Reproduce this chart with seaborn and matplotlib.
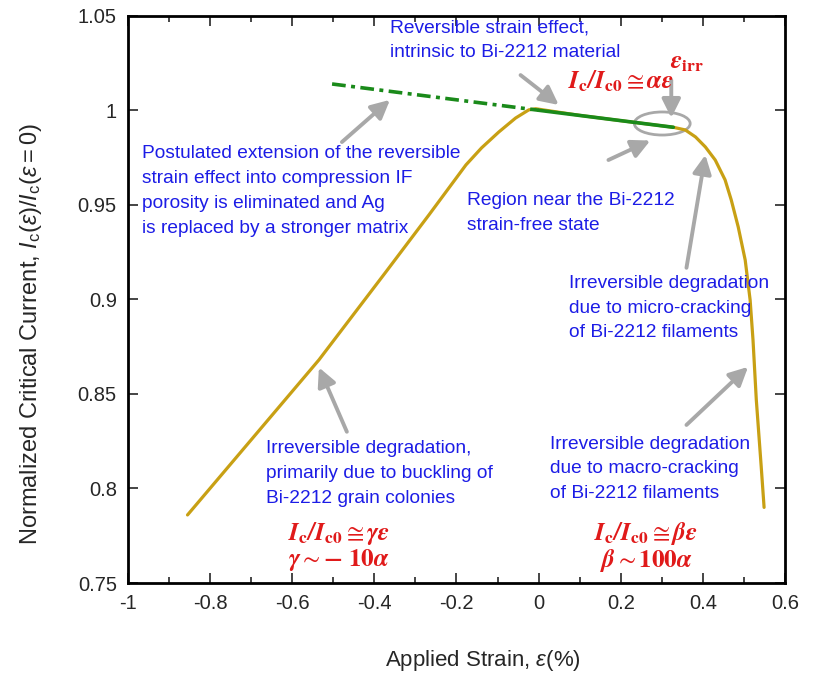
import numpy as np
import pandas as pd
import seaborn as sns
import matplotlib.pyplot as plt
from matplotlib.patches import Ellipse
from matplotlib.ticker import MultipleLocator

strain = [-0.855, -0.535, -0.372, -0.267, -0.177, -0.139, -0.097, -0.056, -0.024, -0.007,
          0.1, 0.2, 0.328, 0.357, 0.382, 0.406, 0.430, 0.454, 0.469, 0.486, 0.503,
          0.515, 0.522, 0.530, 0.542, 0.549]
ic_norm = [0.786, 0.868, 0.9145, 0.9447, 0.9711, 0.9801, 0.9885, 0.9959, 1.0002, 1.0008,
           0.9973, 0.9945, 0.9910, 0.9896, 0.9859, 0.9806, 0.9737, 0.9632, 0.9526, 0.9383, 0.9208,
           0.8997, 0.8786, 0.847, 0.8115, 0.790]

# reversible (linear) region and its extension into compression
rev_strain = [0.0, 0.328]
rev_ic = [1.0, 0.9910]
ext_strain = [-0.503, 0.0]
ext_ic = [1.0139, 1.0]

xticks = [-1, -0.8, -0.6, -0.4, -0.2, 0, 0.2, 0.4, 0.6]
xticklabels = ['-1', '-0.8', '-0.6', '-0.4', '-0.2', '0', '0.2', '0.4', '0.6']
yticks = [0.75, 0.8, 0.85, 0.9, 0.95, 1.0, 1.05]
yticklabels = ['0.75', '0.8', '0.85', '0.9', '0.95', '1', '1.05']

sns.set_style('ticks')
plt.rcParams['font.family'] = ['Liberation Sans', 'DejaVu Sans']
plt.rcParams['mathtext.fontset'] = 'custom'
plt.rcParams['mathtext.it'] = 'Liberation Sans:italic'
plt.rcParams['mathtext.rm'] = 'Liberation Sans'

fig = plt.figure(figsize=(8.13, 6.77), dpi=100)
ax = fig.add_axes([0.1574, 0.1388, 0.9656 - 0.1574, 0.9768 - 0.1388])

yellow = '#c8a014'
green = '#1a8a1a'
blue = '#1c1ce6'
red = '#e01a1a'
gray = '#a8a8a8'

sns.lineplot(x=strain, y=ic_norm, ax=ax, color=yellow, lw=2.3, sort=False)
sns.lineplot(x=rev_strain, y=rev_ic, ax=ax, color=green, lw=2.6, sort=False)
ax.plot(ext_strain, ext_ic, color=green, lw=2.6, linestyle=(0, (3.8, 1.5, 1.1, 1.5)))

ax.add_patch(Ellipse((0.301, 0.993), 0.136, 0.0122, fill=False, edgecolor=gray, lw=2))

ax.set_xlim(-1, 0.6)
ax.set_ylim(0.75, 1.05)
ax.set_xticks(xticks)
ax.set_xticklabels(xticklabels)
ax.set_yticks(yticks)
ax.set_yticklabels(yticklabels)
ax.xaxis.set_minor_locator(MultipleLocator(0.1))
ax.tick_params(which='both', direction='in', top=True, right=True, width=1.2)
ax.tick_params(which='major', length=7, labelsize=14.5, pad=8)
ax.tick_params(which='minor', length=4)
for s in ax.spines.values():
    s.set_linewidth(2)
    s.set_color('black')

ax.set_xlabel(r'Applied Strain, $\varepsilon$(%)', fontsize=16)
ax.set_ylabel(r'Normalized Critical Current, $I_{\rm c}(\varepsilon)/I_{\rm c}(\varepsilon = 0)$',
              fontsize=17)
ax.xaxis.set_label_coords(0.54, -0.115)
ax.yaxis.set_label_coords(-0.128, 0.439)

# arrows
arrows = [
    ((-0.044, 1.0186), (0.049, 1.0028)),
    ((0.323, 1.016), (0.323, 0.996)),
    ((-0.479, 0.9832), (-0.362, 1.0055)),
    ((0.170, 0.9737), (0.272, 0.984)),
    ((0.36, 0.9167), (0.406, 0.9764)),
    ((0.36, 0.8336), (0.51, 0.8643)),
    ((-0.467, 0.83), (-0.535, 0.864)),
]
for tail, head in arrows:
    ax.annotate('', xy=head, xytext=tail,
                arrowprops=dict(arrowstyle='-|>', color=gray, lw=2.8, mutation_scale=28,
                                shrinkA=0, shrinkB=0))

# blue notes
tkw = dict(color=blue, fontsize=13.8, linespacing=1.6, va='center', ha='left')
ax.text(-0.362, 1.037, 'Reversible strain effect,\nintrinsic to Bi-2212 material', **tkw)
ax.text(-0.965, 0.9573, 'Postulated extension of the reversible\nstrain effect into compression IF\n'
        'porosity is eliminated and Ag\nis replaced by a stronger matrix', **tkw)
ax.text(-0.175, 0.9457, 'Region near the Bi-2212\nstrain-free state', **tkw)
ax.text(0.073, 0.8954, 'Irreversible degradation\ndue to micro-cracking\nof Bi-2212 filaments', **tkw)
ax.text(0.027, 0.8104, 'Irreversible degradation\ndue to macro-cracking\nof Bi-2212 filaments', **tkw)
ax.text(-0.663, 0.8078, 'Irreversible degradation,\nprimarily due to buckling of\nBi-2212 grain colonies', **tkw)

# red formulas
rkw = dict(color=red, fontsize=18, ha='center', va='center', math_fontfamily='stix')
ax.text(0.200, 1.0155, r'$\mathbfit{I}_{\mathbf{c}}\mathbfit{/I}_{\mathbf{c0}}\cong\mathbfit{\alpha\varepsilon}$', **rkw)
ax.text(0.362, 1.0255, r'$\mathbfit{\varepsilon}_{\mathbf{irr}}$', **rkw)
ax.text(-0.486, 0.776, r'$\mathbfit{I}_{\mathbf{c}}\mathbfit{/I}_{\mathbf{c0}}\cong\mathbfit{\gamma\varepsilon}$', **rkw)
ax.text(-0.486, 0.762, r'$\mathbfit{\gamma}\sim\mathbf{-\ 10}\mathbfit{\alpha}$', **rkw)
ax.text(0.262, 0.776, r'$\mathbfit{I}_{\mathbf{c}}\mathbfit{/I}_{\mathbf{c0}}\cong\mathbfit{\beta\varepsilon}$', **rkw)
ax.text(0.262, 0.762, r'$\mathbfit{\beta}\sim\mathbf{100}\mathbfit{\alpha}$', **rkw)

fig.savefig('out.png', dpi=100)
